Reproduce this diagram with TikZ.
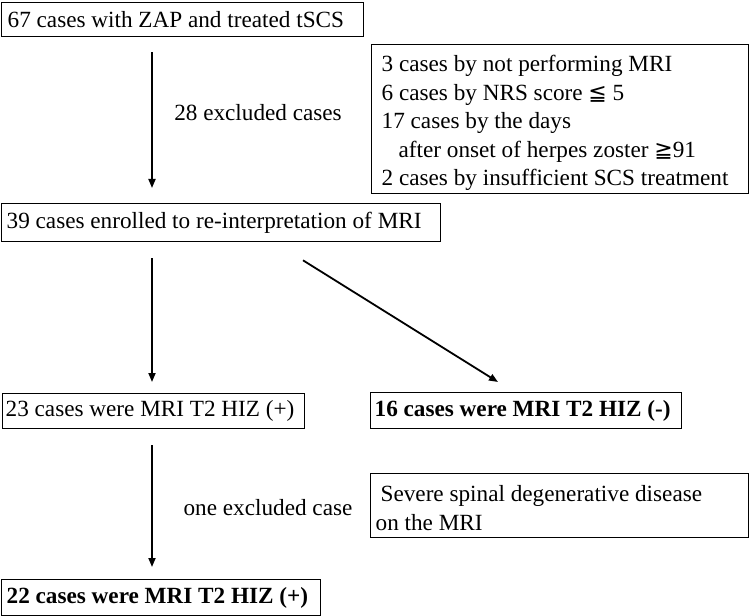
\documentclass[tikz,border=0pt]{standalone}
\usepackage{fontspec}
\setmainfont{Liberation Serif}
\newfontfamily\symf{DejaVu Sans}
\usetikzlibrary{arrows.meta}
\newcommand{\lline}[2]{\makebox[#1][l]{#2}}
\newcommand{\symch}[1]{{\symf\fontsize{22bp}{28bp}\selectfont #1}}
\begin{document}
\begin{tikzpicture}[x=1bp,y=-1bp,
  font=\fontsize{23.2bp}{28bp}\selectfont,
  box/.style={draw, line width=1.3bp, anchor=north west, inner ysep=0pt},
  arr/.style={line width=1.8bp, -{Triangle[length=9bp,width=7bp]}},
  lbl/.style={inner sep=0pt}]
\useasboundingbox (0,0) rectangle (749,616);
\fill[white] (0,0) rectangle (749,616);

\node[box, inner xsep=6bp, minimum height=34bp] (b1) at (1,2)
  {\lline{350bp}{67 cases with ZAP and treated tSCS}};
\node[box, inner xsep=10bp, minimum height=149bp, text width=357bp, align=flush left,
      font=\fontsize{23.2bp}{28.5bp}\selectfont] (b2) at (371,44)
  {\rule{0pt}{24bp}3 cases by not performing MRI\\
   6 cases by NRS score \symch{≦} 5\\
   17 cases by the days\\
   \hspace*{17bp}after onset of herpes zoster \symch{≧}91\\
   2 cases by insufficient SCS treatment};
\node[box, inner xsep=5bp, minimum height=38bp] (b39) at (1,203)
  {\lline{429bp}{39 cases enrolled to re-interpretation of MRI}};
\node[box, inner xsep=3bp, minimum height=35bp] (b23) at (2,393)
  {\lline{296bp}{23 cases were MRI T2 HIZ (+)}};
\node[box, inner xsep=4bp, minimum height=36bp] (b16) at (370,392)
  {\lline{303bp}{\textbf{16 cases were MRI T2 HIZ (-)}}};
\node[box, inner xsep=5bp, minimum height=64bp, text width=368bp, align=flush left,
      font=\fontsize{23.2bp}{29bp}\selectfont] (bsev) at (370,473)
  {\rule{0pt}{21bp}\hspace*{5bp}Severe spinal degenerative disease\\on the MRI};
\node[box, inner xsep=5bp, minimum height=36bp] (b22) at (1,579)
  {\lline{309bp}{\textbf{22 cases were MRI T2 HIZ (+)}}};

\node[lbl] (l1) at (258,113) {28 excluded cases};
\node[lbl] (l2) at (268,508) {one excluded case};

\draw[arr] ([xshift=151bp,yshift=-15bp]b1.south west) -- ([xshift=151bp,yshift=15bp]b39.north west);
\draw[arr] ([xshift=151bp,yshift=-16bp]b39.south west) -- ([xshift=150bp,yshift=11bp]b23.north west);
\draw[arr] ([xshift=302bp,yshift=-18bp]b39.south west) -- ([xshift=128bp,yshift=10bp]b16.north west);
\draw[arr] ([xshift=150bp,yshift=-16bp]b23.south west) -- ([xshift=151bp,yshift=12bp]b22.north west);
\end{tikzpicture}
\end{document}
